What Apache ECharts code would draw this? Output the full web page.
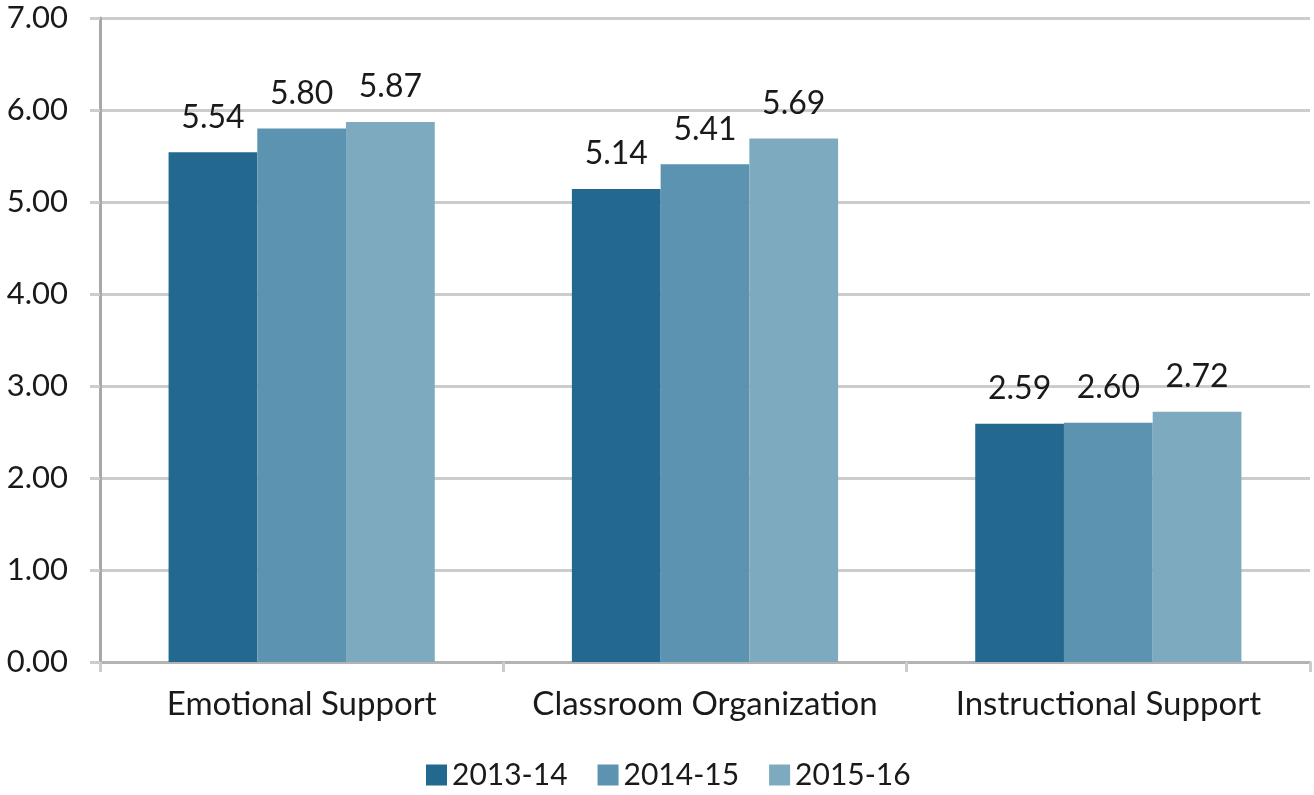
<!DOCTYPE html>
<html lang="en">
<head>
    <meta charset="UTF-8">
    <script src="https://cdn.jsdelivr.net/npm/echarts@6.0.0/dist/echarts.min.js"></script>
    <title>CLASS Domain Scores</title>
    <style>
        html, body { margin: 0; padding: 0; background: #fff; }
        #tu { width: 1314px; height: 795px; }
    </style>
</head>
<body>
<div id="tu"></div>
<script type="text/javascript">
    // data
    var categories = ['Emotional Support', 'Classroom Organization', 'Instructional Support'];
    var years = ['2013-14', '2014-15', '2015-16'];
    var scores2013 = [5.54, 5.14, 2.59];
    var scores2014 = [5.80, 5.41, 2.60];
    var scores2015 = [5.87, 5.69, 2.72];
    var yTicks = [0, 1, 2, 3, 4, 5, 6, 7];

    var colors = ['#22688f', '#5b93b0', '#7eaac0'];
    var font = 'Lato, "Open Sans", sans-serif';

    var thisChart = echarts.init(document.getElementById('tu'));

    function barSeries(name, values, i) {
        return {
            name: name,
            type: 'bar',
            data: values,
            barWidth: '22%',
            barGap: '0%',
            itemStyle: { color: colors[i] },
            label: {
                show: true,
                position: 'top',
                distance: 19,
                fontSize: 32,
                fontFamily: font,
                color: '#1a1a1a',
                formatter: function (p) { return p.value.toFixed(2); }
            }
        };
    }

    var option = {
        animation: false,
        grid: { left: 100, right: 4, top: 18, bottom: 133 },
        legend: {
            data: years,
            bottom: 0,
            left: 421,
            icon: 'rect',
            itemWidth: 21,
            itemHeight: 21,
            itemGap: 30,
            textStyle: { fontSize: 30, fontFamily: font, color: '#1a1a1a' }
        },
        xAxis: {
            type: 'category',
            data: categories,
            axisLine: { lineStyle: { color: '#b3b3b3', width: 3 } },
            axisTick: { show: true, length: 10, lineStyle: { color: '#cccccc', width: 3 } },
            axisLabel: { interval: 0, fontSize: 33, fontFamily: font, color: '#1a1a1a', margin: 26 }
        },
        yAxis: {
            type: 'value',
            min: yTicks[0],
            max: yTicks[yTicks.length - 1],
            interval: 1,
            axisLine: { show: true, lineStyle: { color: '#a8a8a8', width: 3 } },
            axisTick: { show: true, length: 10, lineStyle: { color: '#cccccc', width: 3 } },
            splitLine: { lineStyle: { color: '#cccccc', width: 3 } },
            axisLabel: {
                fontSize: 31, fontFamily: font, color: '#1a1a1a', margin: 32,
                formatter: function (v) { return v.toFixed(2); }
            }
        },
        series: [
            barSeries(years[0], scores2013, 0),
            barSeries(years[1], scores2014, 1),
            barSeries(years[2], scores2015, 2)
        ]
    };
    thisChart.setOption(option);
</script>
</body>
</html>
